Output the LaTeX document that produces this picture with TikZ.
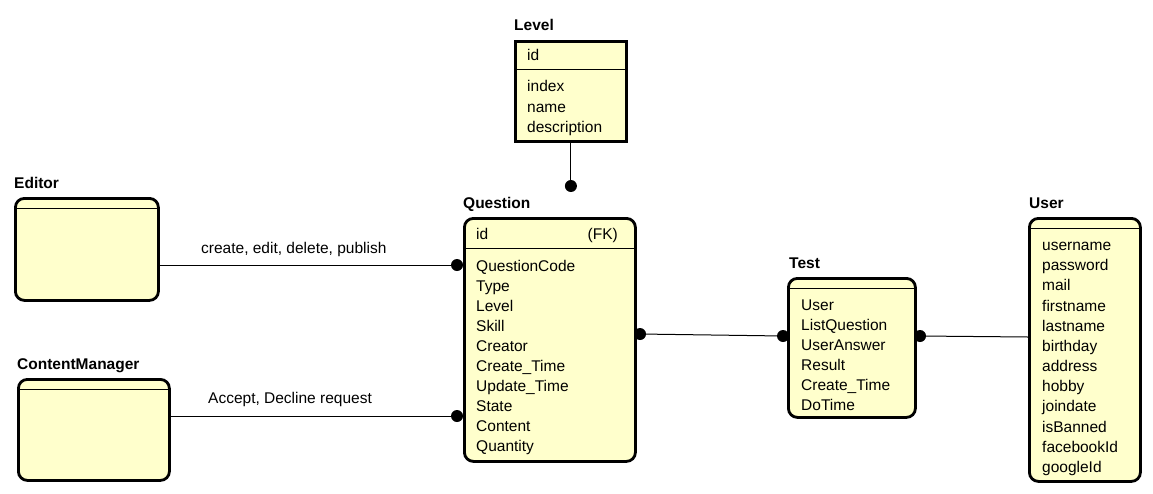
\documentclass[tikz,border=0pt]{standalone}
\usepackage{fontspec}
\setmainfont{Liberation Sans}
\usetikzlibrary{positioning}
\definecolor{entfill}{RGB}{255,255,204}

\tikzset{
  entity/.style={draw, line width=2.8pt, fill=entfill, rounded corners=9pt,
    anchor=north west, inner sep=0pt},
  table/.style={entity, sharp corners},
  attr/.style={anchor=base west, inner sep=0pt, font=\fontsize{15.5}{18}\selectfont},
  title/.style={attr, font=\bfseries\fontsize{15.5}{18}\selectfont},
  divider/.style={line width=1pt},
  link/.style={line width=1pt},
  knob/.style={circle, fill, inner sep=0pt, minimum size=12pt},
}

\begin{document}
\begin{tikzpicture}[x=1pt, y=-1pt]
	\useasboundingbox (0,0) rectangle (1153,493);

	% entities
	\node [table, minimum width=111pt, minimum height=100pt] (level) at (514,40) {};
	\node [entity, minimum width=171pt, minimum height=243pt] (question) at (463,217) {};
	\node [entity, minimum width=143pt, minimum height=102pt] (editor) at (14,197) {};
	\node [entity, minimum width=151pt, minimum height=101pt] (cm) at (17,378) {};
	\node [entity, minimum width=127pt, minimum height=139pt] (test) at (787,277) {};
	\node [entity, minimum width=111pt, minimum height=263pt] (user) at (1028,217) {};

	% dividers
	\draw [divider] (level.west |- 0,69) -- (level.east |- 0,69);
	\draw [divider] (question.west |- 0,248) -- (question.east |- 0,248);
	\draw [divider] (editor.west |- 0,208) -- (editor.east |- 0,208);
	\draw [divider] (cm.west |- 0,389) -- (cm.east |- 0,389);
	\draw [divider] (test.west |- 0,288) -- (test.east |- 0,288);
	\draw [divider] (user.west |- 0,228) -- (user.east |- 0,228);

	% titles
	\node [title] (tlevel) at (514,30.5) {Level};
	\node [title] (tquestion) at (463,208.5) {Question};
	\node [title] (teditor) at (14,188.5) {Editor};
	\node [title] (tcm) at (17,369.5) {ContentManager};
	\node [title] (ttest) at (789,268.5) {Test};
	\node [title] (tuser) at (1029,208.5) {User};

	% attributes
	\node [attr] (lvid) at (527,60.5) {id};
	\foreach \t [count=\i] in {index,name,description}
		\node [attr] (lv\i) at (527,{91.5+20.5*(\i-1)}) {\t};

	\node [attr] (qid) at (476,239.5) {id};
	\node [attr, anchor=base east] (qfk) at (618,239.5) {(FK)};
	\foreach \t [count=\i] in {QuestionCode,Type,Level,Skill,Creator,Create\_Time,Update\_Time,State,Content,Quantity}
		\node [attr] (q\i) at (476,{271.5+20*(\i-1)}) {\t};

	\foreach \t [count=\i] in {User,ListQuestion,UserAnswer,Result,Create\_Time,DoTime}
		\node [attr] (t\i) at (801,{310.5+20*(\i-1)}) {\t};

	\foreach \t [count=\i] in {username,password,mail,firstname,lastname,birthday,address,hobby,joindate,isBanned,facebookId,googleId}
		\node [attr] (u\i) at (1042,{250.5+20.18*(\i-1)}) {\t};

	% connectors
	\node [knob] (lvdot) at (level.south |- 0,186) {};
	\draw [link] (level.south) -- (lvdot);

	\node [knob] (qdot1) at (457,265) {};
	\draw [link] (editor.east |- qdot1) -- (qdot1);
	\node [attr] (lbl1) at (201,253) {create, edit, delete, publish};

	\node [knob] (qdot2) at (457,416) {};
	\draw [link] (cm.east |- qdot2) -- (qdot2);
	\node [attr] (lbl2) at (208,403) {Accept, Decline request};

	\node [knob] (qdot3) at (640,334) {};
	\node [knob] (tdot1) at (783,336) {};
	\draw [link] (qdot3) -- (tdot1);

	\node [knob] (tdot2) at (920,336) {};
	\coordinate (uin) at (1028,337);
	\draw [link] (tdot2) -- (uin);
\end{tikzpicture}
\end{document}
